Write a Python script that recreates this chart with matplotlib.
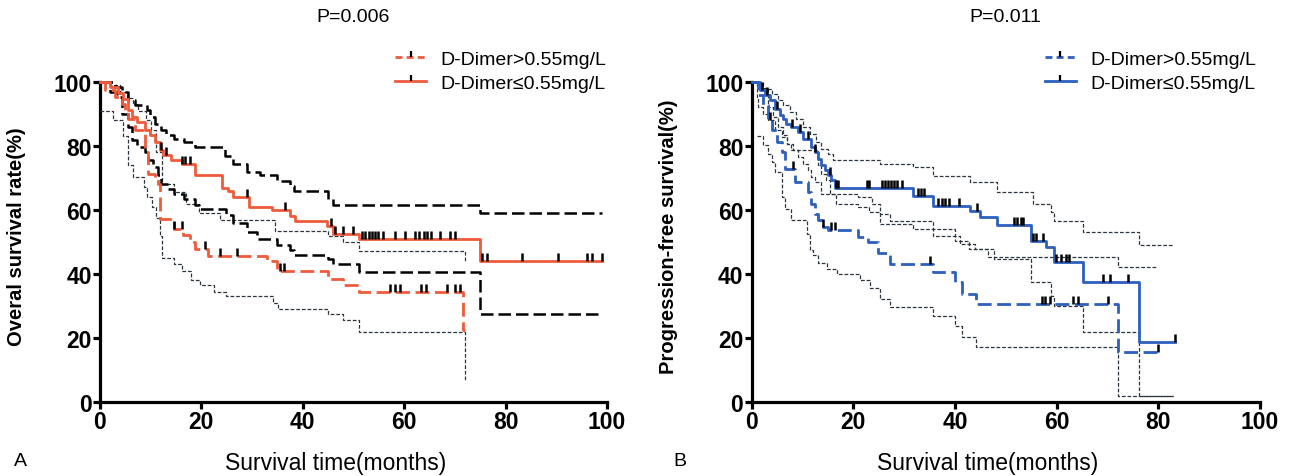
import numpy as np
import matplotlib
matplotlib.use("Agg")
import matplotlib.pyplot as plt
from matplotlib.path import Path
from matplotlib.lines import Line2D

plt.rcParams['font.family'] = ['Liberation Sans', 'DejaVu Sans']

# ---------------- Data ----------------
# Panel A: overall survival, D-Dimer > 0.55 mg/L (dashed red) and its 95% CI (thin)
os_hi_t = [0, 1, 3, 4.3, 4.9, 5.6, 7, 8.9, 9.5, 10.8, 11.5, 11.8, 14.5, 16.4, 17.7, 18.7, 21.4, 32.9, 34.9, 45, 48, 51, 71.6, 72]
os_hi_s = [100, 97.4, 95.3, 93.2, 91, 88.5, 85, 78, 71.4, 69.8, 68, 57.3, 54.2, 52.1, 50, 47.9, 45.5, 44, 41, 38.5, 36.5, 34.5, 22.5, 22.5]
os_hi_lo_t = [0, 2.6, 4.6, 5.6, 6.5, 8.7, 9.2, 10.3, 11, 11.8, 12.2, 14.5, 16.1, 18, 19.7, 22.4, 24.9, 34.2, 35.2, 45, 48, 51, 72]
os_hi_lo_s = [91, 88, 83, 74, 70.3, 67.2, 64, 61, 57.5, 52, 45, 43, 41, 38, 36.5, 34.5, 33, 31, 29, 27.5, 25.5, 22, 7]
os_hi_up_t = [0, 2, 4, 5.3, 6.5, 7.5, 9, 10, 11, 12.2, 14.5, 17, 19.5, 23.7, 34.5, 45, 48, 51, 72]
os_hi_up_s = [100, 99, 97, 95, 93, 91, 88, 85, 78, 68, 65.5, 62, 59, 57, 53.5, 52, 50, 47.3, 44]
os_hi_cens = [14.5, 16.1, 20.7, 23.7, 27, 35.5, 36.2, 57.2, 58.2, 59.2, 63.3, 64.3, 68.4, 70, 71]

# Panel A: D-Dimer <= 0.55 mg/L (solid red) and its 95% CI (thick dashed black)
os_lo_t = [0, 2, 3.6, 4.6, 5.6, 6.3, 7.2, 8.9, 9.9, 10.8, 11.8, 12.5, 14.1, 16.1, 18.7, 24, 25.2, 26.3, 29.3, 34, 37.5, 38.5, 44.7, 46, 51, 75, 99]
os_lo_s = [100, 98.4, 96.5, 94.8, 91.1, 89, 87.5, 84.9, 83.3, 81.2, 78.6, 77.1, 75.5, 74.5, 70.9, 67, 66, 64, 61, 60, 58, 56.5, 55, 52.5, 51, 44, 44]
os_lo_up_t = [0, 3, 4.3, 5.6, 6.9, 9.2, 9.9, 10.8, 12.1, 13, 14.6, 16.6, 18.7, 24.6, 26.2, 29, 31.6, 34.9, 37.5, 38.2, 45, 46, 75, 99]
os_lo_up_s = [100, 98.4, 96.8, 94.3, 92.7, 91.1, 89, 87, 84.9, 83.3, 82.3, 81.2, 79.7, 77, 74.5, 72, 71, 69, 67.5, 66, 63.5, 61.5, 59, 59]
os_lo_lo_t = [0, 2, 3.3, 4.3, 5.6, 6.3, 7.2, 8.9, 9.5, 10.5, 11.5, 12.1, 13.4, 14.6, 16.6, 18.7, 19.5, 24.9, 26.3, 29, 31, 34.9, 37.5, 38.2, 45, 46, 51, 75, 99]
os_lo_lo_s = [100, 97, 95.3, 90.1, 85.9, 81.8, 79.7, 78.1, 75.5, 73.4, 70.8, 68.2, 66.7, 65.1, 63.5, 61.5, 60.4, 58.5, 56, 53, 51, 49, 47.5, 46, 44.8, 43, 40.5, 27.5, 27.5]
os_lo_cens = [12.1, 13.0, 16.1, 16.8, 17.8, 29, 36.5, 45.5, 46.3, 48, 49.9, 51.6, 52.3, 53, 53.6, 54.2, 54.9,
              55.9, 58.2, 60.2, 62.2, 62.9, 63.9, 64.5, 65.2, 67.1, 69, 70, 75.3, 76.3, 83.2, 90.4, 96, 97, 99]

# Panel B: progression-free survival, D-Dimer > 0.55 mg/L (dashed blue) and 95% CI
pfs_hi_t = [0, 1.2, 2.2, 3.2, 3.9, 4.9, 5.9, 6.5, 8.5, 11.1, 11.7, 12.4, 13, 14, 15, 21, 22.9, 24.9, 27.3, 35.7, 40, 41.3, 44.2, 72.1, 80]
pfs_hi_s = [100, 96, 92.7, 88, 84.9, 81.2, 78.1, 72.9, 68.8, 65.6, 62, 58.8, 56.8, 54.7, 53.6, 51.6, 50, 46.5, 43.1, 40.5, 37.4, 33.8, 30.6, 15.5, 15.5]
pfs_hi_up_t = [0, 1.3, 3.2, 4.1, 5.2, 6.1, 6.9, 7.8, 13, 13.7, 14.7, 15.4, 16.5, 21, 23, 25.3, 27.3, 35.7, 40, 42.7, 46.6, 72.1, 79.6]
pfs_hi_up_s = [100, 98, 92.2, 89, 85.9, 83.3, 80.7, 78.6, 74, 71.4, 69.3, 65, 62, 61, 59.5, 58.7, 56.7, 54, 50.4, 47.8, 45.2, 42.1, 42.1]
pfs_hi_lo_t = [1.0, 2.2, 3.2, 3.9, 4.5, 5.9, 6.5, 7.8, 10.8, 11.4, 12.1, 13, 14.8, 16.7, 21.3, 23.3, 25.3, 27.3, 35.7, 40, 41.3, 44.2, 72.1, 83]
pfs_hi_lo_s = [83, 80.2, 77.6, 75, 71.9, 64, 60.4, 56.8, 52.6, 47.4, 46, 43.5, 41.6, 40, 38, 35.7, 32.2, 29.6, 27, 23.9, 20.2, 17.1, 2, 2]
pfs_hi_cens = [3.6, 8.2, 14, 15.6, 16.4, 35.1, 57.1, 57.8, 58.7, 63.3, 64.3, 70.1, 80]

# Panel B: D-Dimer <= 0.55 mg/L (solid blue) and 95% CI
pfs_lo_t = [0, 1.6, 2.6, 3.6, 4.6, 5.6, 6.2, 6.8, 7.8, 9.1, 10.1, 11.7, 12.4, 13, 13.7, 14.4, 15, 15.7, 16.3, 31.8, 35.7, 43, 45, 48.2, 55, 58, 59.6, 65.2, 76.3, 83.3]
pfs_lo_s = [100, 97.4, 95.8, 94.3, 91.7, 89.6, 88.5, 87, 85.9, 84.4, 82.3, 79.7, 78.1, 76, 74, 72.4, 70.8, 69.3, 67, 64.5, 61.4, 59.8, 57.7, 55.3, 50.4, 48.3, 43.6, 37.4, 18.8, 18.8]
pfs_lo_up_t = [0, 2.2, 3.9, 5.2, 6.2, 7.5, 8.8, 10.1, 11.4, 12.7, 13.7, 15, 16, 25.3, 31.8, 35.7, 43, 48.2, 55.4, 59, 59.6, 65.3, 76.2, 83]
pfs_lo_up_s = [100, 97.9, 96.4, 94.3, 92.7, 90.6, 88.5, 85.9, 83.8, 81.2, 79.2, 77.6, 75.5, 74.4, 73.3, 70.7, 68.6, 65.7, 61.9, 59.5, 56.7, 53, 49.2, 49.2]
pfs_lo_lo_t = [0, 1, 1.2, 2.2, 3.2, 4.5, 5.9, 6.9, 8.1, 9.1, 10.1, 11, 11.7, 12.4, 13.7, 21, 23.6, 25.3, 31.8, 35.7, 41, 44, 47.6, 55, 59, 59.6, 65.2, 76.3, 83]
pfs_lo_lo_s = [100, 95.3, 92.2, 90.1, 88, 84.9, 82.8, 80.7, 78.6, 76.6, 74.5, 72.4, 70.3, 68.7, 65.1, 64, 62, 55.5, 54, 52, 49.4, 47.8, 44.7, 37.4, 33.2, 30.1, 21.8, 2, 2]
pfs_lo_cens = [2, 3, 5, 8, 9.5, 11, 12.5, 15.5, 16.5, 17, 22.6, 23, 25.6, 26.2, 26.8, 27.4, 28, 28.6, 29.6, 32.7, 33.3, 33.9,
               36.7, 37.4, 38.1, 38.8, 40.8, 44.4, 51.6, 52.3, 53, 53.5, 55.4, 56, 57.3, 59.9, 60.9, 61.9, 62.5, 69.2, 70.5, 74.1, 83.3]

labels = ["D-Dimer>0.55mg/L", "D-Dimer≤0.55mg/L"]
titles = ["P=0.006", "P=0.011"]
ylabels = ["Overal survival rate(%)", "Progression-free survival(%)"]
xlabel = "Survival time(months)"
ticks = [0, 20, 40, 60, 80, 100]

# ---------------- Styles ----------------
RED = "#ef5b3b"
BLUE = "#2d5fbd"
THIN = "#2b3640"
tick_marker = Path([(0, 0), (0, 1)], [Path.MOVETO, Path.LINETO])

fig = plt.figure(figsize=(12.94, 4.77), dpi=100)
W, H = 1294, 477
axA = fig.add_axes([100 / W, 1 - 403 / H, 507 / W, 320 / H])
axB = fig.add_axes([751.7 / W, 1 - 403 / H, 508 / W, 320 / H])


def step_value(t, s, x):
    t = np.asarray(t)
    s = np.asarray(s)
    idx = np.searchsorted(t, x, side='right') - 1
    return s[np.clip(idx, 0, len(s) - 1)]


def km(ax, t, s, color, ls, lw, cens=None):
    ax.step(t, s, where='post', color=color, ls=ls, lw=lw, clip_on=False, zorder=3)
    if cens is not None:
        c = np.asarray(cens)
        ax.plot(c, step_value(t, s, c), ls='none', marker=tick_marker, ms=11,
                mew=1.8, mec='black', mfc='none', clip_on=False, zorder=4)


def style(ax, title, ylabel):
    ax.set_xlim(0, 100)
    ax.set_ylim(0, 100)
    for sp in ['top', 'right']:
        ax.spines[sp].set_visible(False)
    for sp in ['left', 'bottom']:
        ax.spines[sp].set_linewidth(2.3)
    ax.set_xticks(ticks)
    ax.set_yticks(ticks)
    ax.tick_params(direction='out', length=5, width=2.3, labelsize=16.5, pad=1)
    for lab in ax.get_xticklabels() + ax.get_yticklabels():
        lab.set_fontweight('bold')
    ax.set_xlabel(xlabel, fontsize=16.5)
    ax.xaxis.set_label_coords(0.465, -0.152)
    ax.set_ylabel(ylabel, fontsize=14.5, fontweight='bold')
    ax.yaxis.set_label_coords(-0.146, 0.52)
    ax.text(0.5, 1.205, title, transform=ax.transAxes, ha='center', va='center', fontsize=14)


# Panel A
km(axA, os_hi_lo_t, os_hi_lo_s, THIN, (0, (3, 1.5)), 0.9)
km(axA, os_hi_up_t, os_hi_up_s, THIN, (0, (3, 1.5)), 0.9)
km(axA, os_lo_up_t, os_lo_up_s, 'black', (0, (5, 2)), 1.8)
km(axA, os_lo_lo_t, os_lo_lo_s, 'black', (0, (5, 2)), 1.8)
km(axA, os_hi_t, os_hi_s, RED, (0, (5, 2)), 2.0, os_hi_cens)
km(axA, os_lo_t, os_lo_s, RED, '-', 2.0, os_lo_cens)
style(axA, titles[0], ylabels[0])

# Panel B
km(axB, pfs_hi_up_t, pfs_hi_up_s, THIN, (0, (3, 1.5)), 0.9)
km(axB, pfs_hi_lo_t, pfs_hi_lo_s, THIN, (0, (3, 1.5)), 0.9)
km(axB, pfs_lo_up_t, pfs_lo_up_s, THIN, (0, (3, 1.5)), 0.9)
km(axB, pfs_lo_lo_t, pfs_lo_lo_s, THIN, (0, (3, 1.5)), 0.9)
km(axB, pfs_hi_t, pfs_hi_s, BLUE, (0, (5, 2)), 2.0, pfs_hi_cens)
km(axB, pfs_lo_t, pfs_lo_s, BLUE, '-', 2.0, pfs_lo_cens)
style(axB, titles[1], ylabels[1])

# Legends
for ax, col, x0 in [(axA, RED, 0.582), (axB, BLUE, 0.577)]:
    handles = [Line2D([], [], color=col, ls=(0, (2.5, 1.5)), lw=2, marker=tick_marker, ms=9,
                      mew=1.6, mec='black'),
               Line2D([], [], color=col, ls='-', lw=2, marker=tick_marker, ms=9,
                      mew=1.6, mec='black')]
    ax.legend(handles, labels, loc='upper left', bbox_to_anchor=(x0, 1.098), frameon=False,
              fontsize=14, handlelength=1.6, handletextpad=0.75, labelspacing=0.3,
              borderpad=0, borderaxespad=0, numpoints=1)

fig.text(20 / W, 1 - 462 / H, "A", fontsize=14, ha='center', va='center')
fig.text(680 / W, 1 - 462 / H, "B", fontsize=14, ha='center', va='center')

fig.savefig("out.png", dpi=100)
